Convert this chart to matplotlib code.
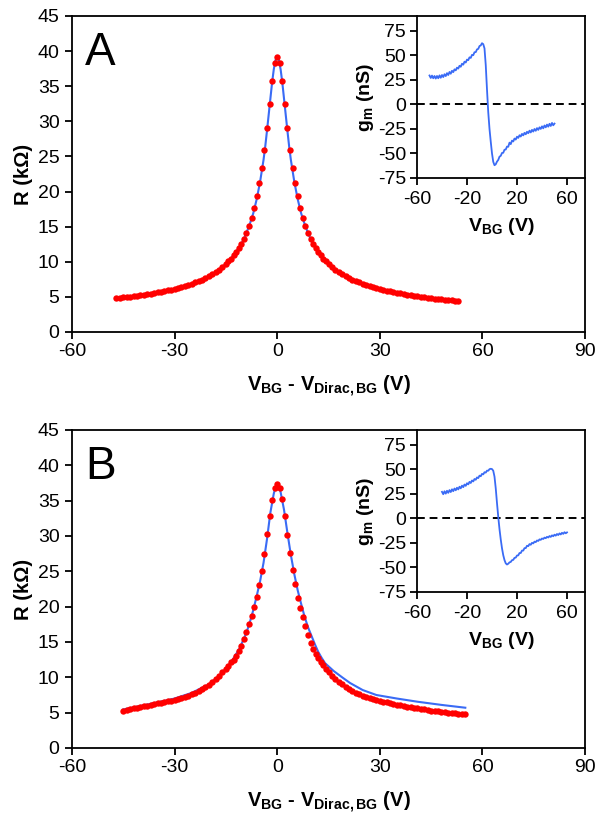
import matplotlib
matplotlib.use("Agg")
import matplotlib.pyplot as plt

plt.rcParams['font.family'] = ['Liberation Sans', 'DejaVu Sans']
plt.rcParams['mathtext.fontset'] = 'custom'
plt.rcParams['mathtext.rm'] = 'Liberation Sans:bold'
plt.rcParams['mathtext.bf'] = 'Liberation Sans:bold'
plt.rcParams['axes.unicode_minus'] = False

# ---- panel A: R vs V_BG - V_Dirac (red = data, blue = fit) ----
VA = [-47, -46, -45, -44, -43, -42, -41, -40, -39, -38, -37, -36, -35, -34, -33, -32,
      -31, -30, -29, -28, -27, -26, -25, -24, -23, -22, -21, -20, -19, -18, -17, -16, -15,
      -14.25, -13.5, -12.75, -12, -11.25, -10.5, -9.75, -9, -8.25, -7.5, -6.75, -6, -5.25,
      -4.5, -3.75, -3, -2.25, -1.5, -0.75, 0, 0.75, 1.5, 2.25, 3, 3.75, 4.5, 5.25, 6, 6.75,
      7.5, 8.25, 9, 9.75, 10.5, 11.25, 12, 12.75, 13.5, 14.25,
      15, 16, 17, 18, 19, 20, 21, 22, 23, 24, 25, 26, 27, 28, 29, 30, 31, 32, 33, 34, 35,
      36, 37, 38, 39, 40, 41, 42, 43, 44, 45, 46, 47, 48, 49, 50, 51, 52, 53]
RA = [4.84, 4.89, 4.94, 5.0, 5.05, 5.11, 5.18, 5.24, 5.31, 5.39, 5.46, 5.55, 5.63, 5.72,
      5.82, 5.92, 6.03, 6.15, 6.27, 6.41, 6.55, 6.70, 6.87, 7.05, 7.24, 7.45, 7.69, 7.94,
      8.22, 8.53, 8.87, 9.26, 9.70,
      10.05, 10.45, 10.9, 11.4, 11.95, 12.6, 13.3, 14.1, 15.1, 16.3, 17.7, 19.3, 21.2,
      23.3, 25.9, 29.0, 32.4, 35.7, 38.3, 39.2, 38.3, 35.7, 32.4, 29.0, 25.9, 23.3, 21.2,
      19.3, 17.7, 16.3, 15.1, 14.1, 13.3, 12.6, 11.95, 11.4, 10.9, 10.45, 10.05,
      9.7, 9.26, 8.87, 8.53, 8.22, 7.94, 7.69, 7.45, 7.24, 7.05, 6.87, 6.7, 6.55, 6.41,
      6.27, 6.15, 6.02, 5.9, 5.79, 5.68, 5.58, 5.49, 5.40, 5.32, 5.24, 5.16, 5.09, 5.02,
      4.95, 4.89, 4.83, 4.77, 4.71, 4.66, 4.61, 4.56, 4.51, 4.46, 4.42]
VA_fit = [-47, -42, -37, -32, -28, -25, -22, -20, -18, -16, -14, -12, -11, -10, -9, -8, -7,
          -6, -5, -4, -3.5, -3, -2.5, -2, -1.5, -1, -0.5, 0, 0.5, 1, 1.5, 2, 2.5, 3, 3.5, 4,
          5, 6, 7, 8, 9, 10, 11, 12, 14, 16, 18, 20, 22, 25, 28, 32, 37, 42, 47, 53]
RA_fit = [4.84, 5.11, 5.46, 5.92, 6.41, 6.87, 7.45, 7.94, 8.53, 9.26, 10.2, 11.4, 12.15,
          13.0, 14.1, 15.4, 16.9, 18.9, 21.4, 24.5, 26.4, 28.6, 30.9, 33.2, 35.5, 37.4,
          38.7, 39.2, 38.7, 37.4, 35.5, 33.2, 30.9, 28.6, 26.4, 24.5, 21.4, 18.9, 16.9,
          15.4, 14.1, 13.0, 12.15, 11.4, 10.2, 9.26, 8.53, 7.94, 7.45, 6.87, 6.41, 5.9,
          5.4, 5.05, 4.75, 4.45]

# ---- panel B ----
VB = [-45, -44, -43, -42, -41, -40, -39, -38, -37, -36, -35, -34, -33, -32, -31, -30,
      -29, -28, -27, -26, -25, -24, -23, -22, -21, -20, -19, -18, -17, -16, -15,
      -14.25, -13.5, -12.75, -12, -11.25, -10.5, -9.75, -9, -8.25, -7.5, -6.75, -6, -5.25,
      -4.5, -3.75, -3, -2.25, -1.5, -0.75, 0, 0.75, 1.5, 2.25, 3, 3.75, 4.5, 5.25, 6, 6.75,
      7.5, 8.25, 9, 9.75, 10.5, 11.25, 12, 12.75, 13.5, 14.25,
      15, 16, 17, 18, 19, 20, 21, 22, 23, 24, 25, 26, 27, 28, 29, 30, 31, 32, 33, 34, 35,
      36, 37, 38, 39, 40, 41, 42, 43, 44, 45, 46, 47, 48, 49, 50, 51, 52, 53, 54, 55]
RB = [5.3, 5.4, 5.5, 5.6, 5.7, 5.8, 5.9, 6.0, 6.1, 6.2, 6.3, 6.4, 6.5, 6.6, 6.7, 6.8,
      6.9, 7.05, 7.2, 7.4, 7.6, 7.8, 8.05, 8.3, 8.6, 8.9, 9.3, 9.7, 10.2, 10.7, 11.2,
      11.6, 12.1, 12.5, 13.0, 13.7, 14.5, 15.4, 16.4, 17.6, 18.7, 19.9, 21.4, 23.1, 25.0,
      27.4, 30.3, 32.9, 35.1, 36.8, 37.3, 36.8, 35.2, 32.8, 30.1, 27.6, 25.2, 23.2, 21.2,
      19.8, 18.5, 17.2, 16.0, 14.9, 14.0, 13.3, 12.7, 12.2, 11.7, 11.2,
      10.8, 10.2, 9.8, 9.35, 9.0, 8.65, 8.35, 8.1, 7.85, 7.6, 7.4, 7.2, 7.05, 6.9, 6.75,
      6.65, 6.55, 6.45, 6.35, 6.25, 6.15, 6.05, 5.95, 5.85, 5.8, 5.7, 5.6, 5.55, 5.45, 5.4,
      5.3, 5.25, 5.2, 5.1, 5.05, 5.0, 4.95, 4.9, 4.85, 4.8, 4.75]
VB_fit = [-45, -40, -35, -30, -25, -20, -17, -15, -13, -11, -9, -8, -7, -6, -5, -4, -3, -2,
          -1, -0.5, 0, 0.5, 1, 2, 3, 4, 5, 6, 7, 8, 9, 10, 11, 12, 13, 14, 16.5, 19, 21.3,
          25, 29, 35, 41, 48, 55]
RB_fit = [5.45, 5.95, 6.45, 7.0, 7.8, 9.0, 10.2, 11.2, 12.5, 14.1, 16.3, 17.8, 19.5, 21.5,
          23.6, 26.2, 29.5, 33.3, 36.0, 36.9, 37.3, 37.0, 36.2, 33.7, 30.4, 27.3, 24.6,
          22.3, 20.4, 18.6, 17.1, 15.9, 14.7, 13.6, 12.75, 12.0, 10.9, 10.0, 9.2, 8.2, 7.5,
          7.0, 6.55, 6.1, 5.7]

# ---- insets: transconductance g_m vs V_BG ----
VgA = [-50, -49, -48, -47, -46, -45, -44, -43, -42, -41, -40, -39, -38, -37, -36, -35,
       -34, -33, -32, -31, -30, -29, -28, -27, -26, -25, -24, -23, -22, -21, -20, -19, -18,
       -17, -16, -15, -14, -13, -12, -11, -10, -9, -8, -7, -6, -5, -4, -3, -2, -1, 0, 1, 2,
       3, 4, 5, 6, 7, 8, 9, 10, 11, 12, 13, 14, 15, 16, 17, 18, 19, 20, 21, 22, 23, 24, 25,
       26, 27, 28, 29, 30, 31, 32, 33, 34, 35, 36, 37, 38, 39, 40, 41, 42, 43, 44, 45, 46,
       47, 48, 49, 50]
gA = [29.4, 26.9, 29.3, 26.6, 28.9, 26.3, 28.9, 26.6, 29.5, 27.1, 29.9, 27.8, 30.7, 28.8,
      31.8, 29.9, 33.0, 31.2, 34.2, 32.8, 35.7, 34.6, 37.4, 36.4, 39.3, 38.3, 41.4, 40.4,
      43.5, 42.6, 45.6, 45.0, 47.9, 47.3, 50.4, 50.1, 53.1, 53.2, 56.0, 56.5, 59.4, 60.0,
      62.3, 61.3, 57.0, 40.0, 15.0, -8.0, -25.0, -38.0, -50.0, -58.5, -62.0, -61.0, -58.3,
      -56.6, -53.3, -52.4, -49.5, -49.3, -46.2, -46.0, -43.0, -43.2, -39.0, -40.5, -36.9,
      -37.8, -34.8, -35.9, -32.9, -34.2, -31.4, -32.8, -30.1, -31.6, -29.0, -30.5, -27.9,
      -29.4, -26.8, -28.6, -26.0, -27.7, -25.1, -26.9, -24.2, -26.0, -23.4, -25.0, -22.4,
      -24.4, -21.5, -23.4, -20.6, -22.7, -19.8, -22.0, -18.9, -21.3, -19.6]
VgB = [-40, -39, -38, -37, -36, -35, -34, -33, -32, -31, -30, -29, -28, -27, -26, -25,
       -24, -23, -22, -21, -20, -19, -18, -17, -16, -15, -14, -13, -12, -11, -10, -9, -8,
       -7, -6, -5, -4, -3, -2, -1, 0, 1, 2, 3, 4, 5, 6, 7, 8, 9, 10, 11, 12, 13, 14, 15, 16,
       17, 18, 19, 20, 21, 22, 23, 24, 25, 26, 27, 28, 29, 30, 31, 32, 33, 34, 35, 36, 37,
       38, 39, 40, 41, 42, 43, 44, 45, 46, 47, 48, 49, 50, 51, 52, 53, 54, 55, 56, 57, 58,
       59, 60]
gB = [27.0, 24.6, 27.6, 25.2, 28.1, 26.0, 28.8, 26.8, 29.6, 27.7, 30.4, 28.6, 31.2, 29.5,
      32.2, 30.6, 33.3, 31.8, 34.5, 33.1, 35.8, 34.6, 37.2, 36.0, 38.6, 37.6, 40.1, 39.3,
      41.7, 41.0, 43.5, 42.9, 45.3, 44.8, 47.0, 46.6, 48.6, 48.5, 50.1, 50.5, 50.2,
      48.5, 42.5, 30.5, 15.5, 1.5, -11.0, -21.5, -30.5, -37.5, -42.5, -45.8, -47.0, -46.2,
      -44.8, -44.4, -42.6, -42.3, -40.2, -40.0, -37.8, -37.7, -35.3, -35.3, -32.8, -32.8,
      -30.3, -30.3, -27.9, -28.3, -26.2, -26.9, -24.9, -25.5, -23.7, -24.2, -22.5, -23.0,
      -21.4, -21.9, -20.5, -21.0, -19.6, -20.2, -18.8, -19.5, -18.0, -18.9, -17.3, -18.2,
      -16.6, -17.6, -15.9, -17.0, -15.3, -16.4, -14.7, -15.8, -14.1, -15.2, -14.3]

RED = '#FF0000'
BLUE = '#3A6BF5'
W, H = 600, 819

fig = plt.figure(figsize=(6.0, 8.19), dpi=100)


def frac(x0, y0, x1, y1):
    return [x0 / W, 1 - y1 / H, (x1 - x0) / W, (y1 - y0) / H]


def main_panel(rect, V, R, Vf, Rf, letter):
    ax = fig.add_axes(rect)
    ax.plot(Vf, Rf, color=BLUE, lw=1.5, zorder=2)
    ax.plot(V, R, 'o', color=RED, ms=4.6, mec='none', zorder=3)
    ax.set_xlim(-60, 90)
    ax.set_ylim(0, 45)
    ax.set_xticks([-60, -30, 0, 30, 60, 90])
    ax.set_yticks(range(0, 46, 5))
    for s in ax.spines.values():
        s.set_linewidth(1.3)
    ax.tick_params(direction='out', length=5, width=1.3, labelsize=14)
    ax.tick_params(axis='y', pad=4)
    ax.tick_params(axis='x', pad=3)
    ax.set_ylabel('R (kΩ)', fontsize=14.5, fontweight='bold', labelpad=3)
    ax.set_xlabel(r'V$_\mathbf{BG}$ - V$_\mathbf{Dirac,BG}$ (V)', fontsize=14.5,
                  fontweight='bold', labelpad=10)
    ax.text(0.026, 0.845, letter, transform=ax.transAxes, fontsize=33,
            va='baseline', ha='left')
    return ax


def inset(rect, V, g):
    ax = fig.add_axes(rect)
    ax.patch.set_alpha(0)
    ax.axhline(0, color='black', lw=1.4, ls=(0, (4, 2.5)), zorder=1)
    ax.plot(V, g, color=BLUE, lw=1.3, zorder=2)
    ax.set_xlim(-60, 74.4)
    ax.set_ylim(-75, 90)
    ax.set_xticks([-60, -20, 20, 60])
    ax.set_yticks([-75, -50, -25, 0, 25, 50, 75])
    ax.spines['top'].set_visible(False)
    ax.spines['right'].set_visible(False)
    for s in ('left', 'bottom'):
        ax.spines[s].set_linewidth(1.3)
    ax.tick_params(direction='out', length=5, width=1.3, labelsize=14)
    ax.tick_params(axis='y', pad=3)
    ax.tick_params(axis='x', pad=4)
    ax.set_ylabel(r'g$_\mathbf{m}$ (nS)', fontsize=14, fontweight='bold', labelpad=1)
    ax.set_xlabel(r'V$_\mathbf{BG}$ (V)', fontsize=14, fontweight='bold', labelpad=6)
    return ax


main_panel(frac(72, 16, 585, 332), VA, RA, VA_fit, RA_fit, 'A')
inset(frac(417, 16, 585, 178), VgA, gA)
main_panel(frac(72, 430, 585, 748), VB, RB, VB_fit, RB_fit, 'B')
inset(frac(417, 430, 585, 592), VgB, gB)

fig.savefig('out.png', dpi=100)
